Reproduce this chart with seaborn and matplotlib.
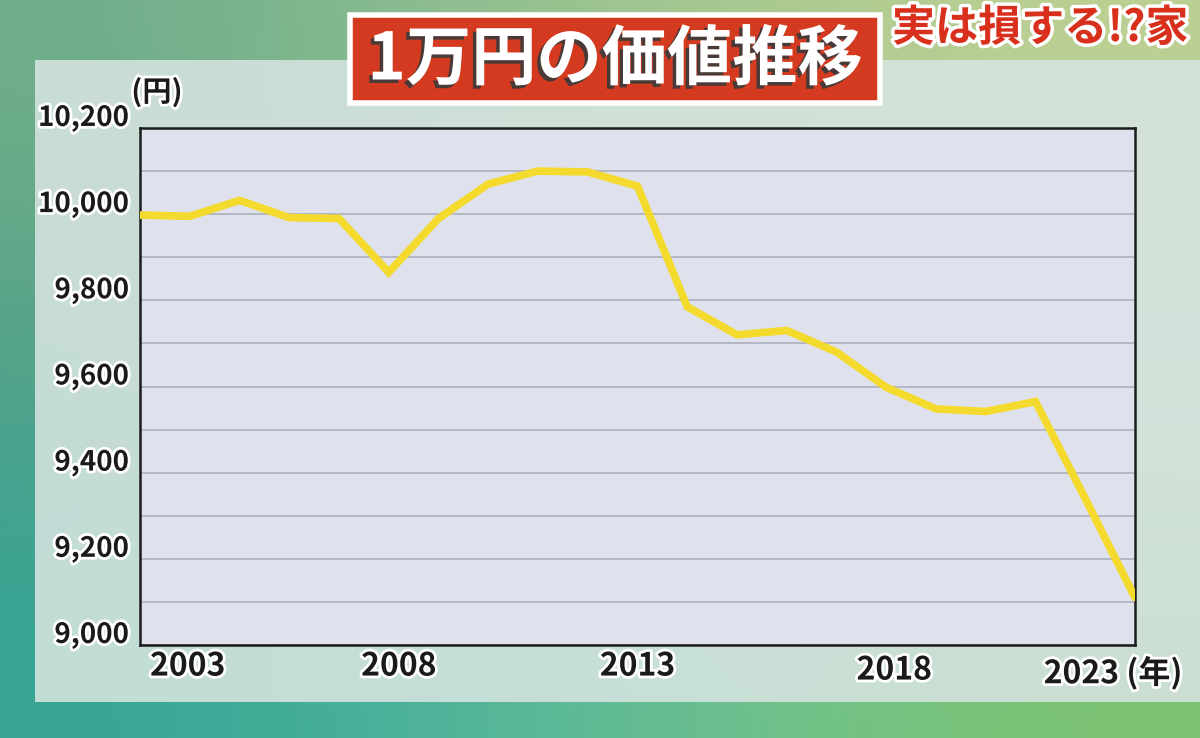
import numpy as np
import matplotlib
matplotlib.use("Agg")
import matplotlib.pyplot as plt
import matplotlib.patheffects as pe
from matplotlib.patches import Rectangle
from matplotlib.transforms import ScaledTranslation
from matplotlib.colors import to_rgb
import seaborn as sns

# -------------------------------
# Data (value of 10,000 yen, by year)
# -------------------------------
years = list(range(2003, 2024))
values = [9998, 9995, 10032, 9992, 9990, 9865, 9990, 10070, 10100, 10098,
          10065, 9785, 9720, 9730, 9680, 9598, 9548, 9542, 9565, 9340, 9110]

ytick_values = [9000, 9200, 9400, 9600, 9800, 10000, 10200]
ytick_labels = ["9,000", "9,200", "9,400", "9,600", "9,800", "10,000", "10,200"]
xtick_values = [2003, 2008, 2013, 2018, 2023]
xtick_labels = ["2003", "2008", "2013", "2018", "2023 (年)"]

title = "1万円の価値推移"
side_caption = "実は損する!?家"

sns.set_style("white")
plt.rcParams['font.family'] = ['Noto Sans CJK JP', 'DejaVu Sans']

W, H = 1200, 738
fig = plt.figure(figsize=(12, 7.38), dpi=100)

def px(dx, dy=0):
    # offset in screen pixels
    return ScaledTranslation(dx / 100, dy / 100, fig.dpi_scale_trans)

# -------------------------------
# Background (TV screen gradient)
# -------------------------------
grid_cols = [
    ['#6fae8a', '#8fbe90', '#a9c98f', '#bccf90'],
    ['#4e9e86', '#9fc4b0', '#c6d8c4', '#cfdcc8'],
    ['#36a595', '#4cb49c', '#6cc08c', '#79c26d'],
]
bg_img = np.array([[to_rgb(c) for c in row] for row in grid_cols])
bg = fig.add_axes([0, 0, 1, 1], zorder=-10)
bg.imshow(bg_img, extent=[0, 1, 0, 1], aspect='auto', interpolation='bicubic')
bg.set_xlim(0, 1)
bg.set_ylim(0, 1)
bg.axis('off')

# light chart panel
bg.add_patch(Rectangle((35 / W, 1 - 702 / H), 1.0, (702 - 60) / H,
                       facecolor='#d6e4e0', alpha=0.88, edgecolor='none'))

# -------------------------------
# Line chart
# -------------------------------
ax = fig.add_axes([140 / W, 1 - 645 / H, (1135 - 140) / W, (645 - 128) / H])
ax.set_facecolor('#dfe2ec')
sns.lineplot(x=years, y=values, color='#f4da2c', linewidth=5.5, ax=ax,
             solid_joinstyle='miter', zorder=3)

ax.set_xlim(2003, 2023)
ax.set_ylim(9000, 10200)
ax.set_yticks(ytick_values)
ax.set_yticklabels(ytick_labels)
ax.set_yticks(range(9000, 10201, 100), minor=True)
ax.set_xticks(xtick_values)
ax.set_xticklabels(xtick_labels)
ax.grid(which='both', axis='y', color='#a8acb8', linewidth=1.1)
ax.grid(False, axis='x')
ax.tick_params(axis='both', which='both', length=0)
ax.tick_params(axis='y', pad=8)
ax.tick_params(axis='x', pad=4)
for s in ax.spines.values():
    s.set_color('#1c1c1c')
    s.set_linewidth(1.8)
ax.set_xlabel("")
ax.set_ylabel("")

outline = [pe.withStroke(linewidth=4, foreground='white')]
for lab in ax.get_yticklabels():
    lab.set_fontsize(20)
    lab.set_fontweight('bold')
    lab.set_color('#1a1a1a')
    lab.set_path_effects(outline)
    lab.set_transform(lab.get_transform() + px(0, 13))
for lab in ax.get_xticklabels():
    lab.set_fontsize(23)
    lab.set_fontweight('bold')
    lab.set_color('#1a1a1a')
    lab.set_path_effects(outline)
xl = ax.get_xticklabels()
xl[0].set_ha('left')
xl[0].set_transform(xl[0].get_transform() + px(10))
xl[-1].set_transform(xl[-1].get_transform() + px(-22, -6))
xl[3].set_transform(xl[3].get_transform() + px(8, -4))
xl[1].set_transform(xl[1].get_transform() + px(10))

fig.text(157 / W, 1 - 92 / H, "(円)", ha='center', va='center', fontsize=21,
         fontweight='bold', color='#1a1a1a', path_effects=outline)

# -------------------------------
# Title box
# -------------------------------
bg.add_patch(Rectangle((350 / W, 1 - 103 / H), 530 / W, 88 / H,
                       facecolor='#d43a20', edgecolor='white', linewidth=4))
fig.text(615 / W, 1 - 60 / H, title, ha='center', va='center', fontsize=47,
         fontweight='bold', color='white',
         path_effects=[pe.withSimplePatchShadow(offset=(-2.5, -2.5),
                                                shadow_rgbFace='#3a3a3a', alpha=0.9)])

# caption at top right
fig.text(892 / W, 1 - 28 / H, side_caption, ha='left', va='center', fontsize=31,
         fontweight='bold', color='#d8301c',
         path_effects=[pe.withStroke(linewidth=5, foreground='white')])

fig.savefig("out.png", dpi=100)
